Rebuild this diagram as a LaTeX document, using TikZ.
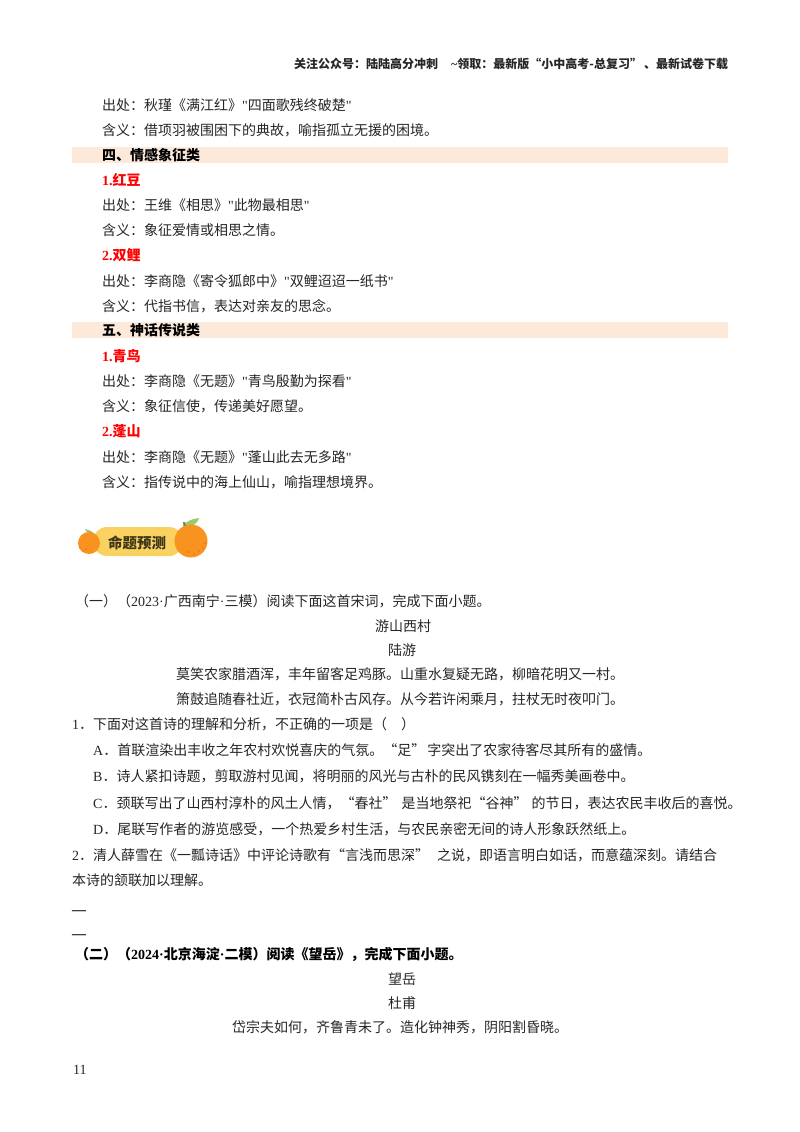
\documentclass[tikz,border=0pt]{standalone}
\usepackage{fontspec}
\setmainfont{Noto Sans CJK SC}
\newfontfamily\latf{Liberation Serif}
\newcommand{\lat}[1]{{\latf #1}}
\definecolor{bandc}{HTML}{FCE9DA}
\definecolor{inkc}{HTML}{262626}
\definecolor{bady}{HTML}{F9D262}
\definecolor{orangec}{HTML}{F7931E}
\definecolor{leafc}{HTML}{9CC96B}
\definecolor{badt}{HTML}{3F3618}
\tikzset{
  x=1pt,y=-1pt,
  txt/.style={anchor=base west,inner sep=0pt,text=inkc,font=\fontsize{14}{14}\selectfont},
  hd/.style={txt,font=\fontsize{12}{12}\selectfont\bfseries},
  poem/.style={txt,anchor=base},
  sec/.style={txt,font=\fontsize{14}{14}\selectfont\bfseries,text=black},
  redh/.style={sec,text=red},
  band/.style={fill=bandc,draw=none},
}
\begin{document}
\begin{tikzpicture}
\useasboundingbox (0,0) rectangle (800,1132);
\fill[white] (0,0) rectangle (800,1132);
\fill[band] (72,147) rectangle (728,163);
\fill[band] (72,322) rectangle (728,338);
\node[hd] (h) at (294,68) {关注公众号：陆陆高分冲刺\hspace{13pt}\lat{\textasciitilde}领取：最新版“小中高考-总复习”\hspace{2pt}、最新试卷下载};
\node[txt] (a1) at (102,110) {出处：秋瑾《满江红》\lat{"}四面歌残终破楚\lat{"}};
\node[txt] (a2) at (102,135) {含义：借项羽被围困下的典故，喻指孤立无援的困境。};
\node[sec] (a3) at (102,160) {四、情感象征类};
\node[redh] (a4) at (102,185) {\lat{1.}红豆};
\node[txt] (a5) at (102,210) {出处：王维《相思》\lat{"}此物最相思\lat{"}};
\node[txt] (a6) at (102,235) {含义：象征爱情或相思之情。};
\node[redh] (a7) at (102,260) {\lat{2.}双鲤};
\node[txt] (a8) at (102,286) {出处：李商隐《寄令狐郎中》\lat{"}双鲤迢迢一纸书\lat{"}};
\node[txt] (a9) at (102,311) {含义：代指书信，表达对亲友的思念。};
\node[sec] (b1) at (102,335) {五、神话传说类};
\node[redh] (b2) at (102,361) {\lat{1.}青鸟};
\node[txt] (b3) at (102,386) {出处：李商隐《无题》\lat{"}青鸟殷勤为探看\lat{"}};
\node[txt] (b4) at (102,411) {含义：象征信使，传递美好愿望。};
\node[redh] (b5) at (102,436) {\lat{2.}蓬山};
\node[txt] (b6) at (102,462) {出处：李商隐《无题》\lat{"}蓬山此去无多路\lat{"}};
\node[txt] (b7) at (102,487) {含义：指传说中的海上仙山，喻指理想境界。};
% badge
\fill[bady,rounded corners=14pt] (93,527) rectangle (183,556);
\draw[bady!70!orangec,densely dotted,rounded corners=12pt] (95,529) rectangle (181,554);
\fill[leafc] (96,536) .. controls (93,531) and (89,530) .. (85,529) .. controls (87,534) and (91,536) .. (96,536);
\fill[leafc] (183,526) .. controls (187,520) and (193,519) .. (199,518) .. controls (197,525) and (190,528) .. (183,526);
\fill[leafc!70!black] (183,522) -- (185,522) -- (187,529) -- (184,529) -- cycle;
\fill[orangec] (89,543) circle (11);
\fill[orangec] (191,541) circle (16.5);
\foreach \p in {(80,548),(83,551),(86,549),(205,543),(203,548),(199,551),(194,554),(188,552)} \fill[red!70!orangec] \p circle (0.7);
\node[anchor=center,inner sep=0pt,text=badt,font=\fontsize{14.5}{14.5}\selectfont\bfseries] (badge) at (137,543) {命题预测};
\node[txt] (q0) at (75,606) {（一）（\lat{2023·}广西南宁\lat{·}三模）阅读下面这首宋词，完成下面小题。};
\node[poem] (p1) at (403,631) {游山西村};
\node[poem] (p2) at (402,655) {陆游};
\node[poem] (p3) at (400,679) {莫笑农家腊酒浑，丰年留客足鸡豚。山重水复疑无路，柳暗花明又一村。};
\node[poem] (p4) at (400,704) {箫鼓追随春社近，衣冠简朴古风存。从今若许闲乘月，拄杖无时夜叩门。};
\node[txt] (q1) at (72,729) {\lat{1}．下面对这首诗的理解和分析，不正确的一项是（\hspace{14pt}）};
\node[txt] (qa) at (93,755) {\lat{A}．首联渲染出丰收之年农村欢悦喜庆的气氛。“足”\hspace{2pt}字突出了农家待客尽其所有的盛情。};
\node[txt] (qb) at (93,781) {\lat{B}．诗人紧扣诗题，剪取游村见闻，将明丽的风光与古朴的民风镌刻在一幅秀美画卷中。};
\node[txt] (qc) at (93,808) {\lat{C}．颈联写出了山西村淳朴的风土人情，“春社”\hspace{5pt}是当地祭祀“谷神”\hspace{4pt}的节日，表达农民丰收后的喜悦。};
\node[txt] (qd) at (93,834) {\lat{D}．尾联写作者的游览感受，一个热爱乡村生活，与农民亲密无间的诗人形象跃然纸上。};
\node[txt] (q2) at (72,860) {\lat{2}．清人薛雪在《一瓢诗话》中评论诗歌有“言浅而思深”\hspace{8pt}之说，即语言明白如话，而意蕴深刻。请结合};
\node[txt] (q3) at (72,885) {本诗的颔联加以理解。};
\node[txt,font=\fontsize{14}{14}\selectfont\bfseries,text=black] (d1) at (72,914) {\lat{—}};
\node[txt,font=\fontsize{14}{14}\selectfont\bfseries,text=black] (d2) at (72,938) {\lat{—}};
\node[sec] (s2) at (75,959) {（二）（\lat{2024·}北京海淀\lat{·}二模）阅读《望岳》，完成下面小题。};
\node[poem] (t1) at (402,984) {望岳};
\node[poem] (t2) at (402,1008) {杜甫};
\node[poem] (t3) at (400,1032) {岱宗夫如何，齐鲁青未了。造化钟神秀，阴阳割昏晓。};
\node[txt] (pg) at (73,1074) {\lat{11}};
\end{tikzpicture}
\end{document}
